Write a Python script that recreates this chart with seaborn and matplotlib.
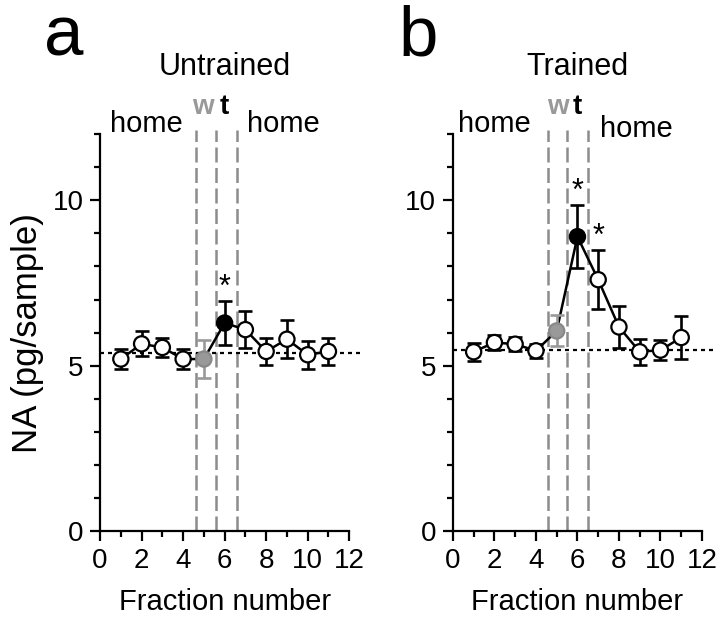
import numpy as np
import pandas as pd
import matplotlib
matplotlib.use("Agg")
import matplotlib.pyplot as plt
import seaborn as sns
from matplotlib.ticker import MultipleLocator

fractions = [1, 2, 3, 4, 5, 6, 7, 8, 9, 10, 11]
untrained_mean = [5.20, 5.66, 5.55, 5.20, 5.20, 6.29, 6.09, 5.43, 5.80, 5.33, 5.43]
untrained_sem = [0.30, 0.38, 0.28, 0.30, 0.57, 0.66, 0.55, 0.40, 0.58, 0.43, 0.40]
untrained_base = 5.38
trained_mean = [5.42, 5.70, 5.65, 5.45, 6.05, 8.90, 7.60, 6.17, 5.42, 5.47, 5.85]
trained_sem = [0.28, 0.22, 0.22, 0.22, 0.47, 0.95, 0.90, 0.63, 0.40, 0.30, 0.65]
trained_base = 5.47
panel_letters = ["a", "b"]
titles = ["Untrained", "Trained"]
sig_untrained = [6]
sig_trained = [6, 7]

sns.set_style("ticks")
plt.rcParams['font.family'] = ['Liberation Sans', 'DejaVu Sans']
for k in ['text.color', 'axes.labelcolor', 'xtick.color', 'ytick.color', 'axes.edgecolor']:
    plt.rcParams[k] = 'black'
plt.rcParams['axes.linewidth'] = 1.6
for k in ['xtick.major.width', 'ytick.major.width', 'xtick.minor.width', 'ytick.minor.width']:
    plt.rcParams[k] = 1.6

GRAY = "#999999"

fig = plt.figure(figsize=(7.2, 6.24), dpi=100)
axes = [fig.add_axes([0.139, 0.149, 0.346, 0.636]),
        fig.add_axes([0.629, 0.149, 0.346, 0.636])]

datasets = [
    (untrained_mean, untrained_sem, untrained_base, sig_untrained, [4.6, 5.6, 6.6]),
    (trained_mean, trained_sem, trained_base, sig_trained, [4.6, 5.5, 6.5]),
]

for i, ax in enumerate(axes):
    mean, sem, base, sig, vlines = datasets[i]
    df = pd.DataFrame({"fraction": fractions, "na": mean, "sem": sem})
    for xv in vlines:
        ax.axvline(xv, ymin=0, ymax=1.01, color="#8c8c8c", lw=1.8, ls=(0, (6, 2.2)), zorder=1, clip_on=False)
    ax.plot([0, 12.7], [base, base], color="black", lw=1.6, ls=(0, (1.8, 1.8)), zorder=2, clip_on=False)
    sns.lineplot(data=df, x="fraction", y="na", color="black", lw=1.8, ax=ax, zorder=3)
    colors_e = [GRAY if f == 5 else "black" for f in fractions]
    for f, m, s, c in zip(fractions, mean, sem, colors_e):
        ax.errorbar([f], [m], yerr=[s], fmt="none", ecolor=c, elinewidth=1.9, capsize=5, capthick=1.9, zorder=4)
    face = [GRAY if f == 5 else ("black" if f == 6 else "white") for f in fractions]
    edge = ["#888888" if f == 5 else "black" for f in fractions]
    ax.scatter(df["fraction"], df["na"], s=120, c=face, edgecolors=edge, linewidths=1.6, zorder=5)
    for f in sig:
        idx = fractions.index(f)
        ax.text(f, mean[idx] + sem[idx] - 0.05, "*", ha="center", va="bottom", fontsize=22)
    ax.set_xlim(0, 12)
    ax.set_ylim(0, 12)
    ax.set_xticks([0, 2, 4, 6, 8, 10, 12])
    ax.set_xticklabels(["0", "2", "4", "6", "8", "10", "12"])
    ax.xaxis.set_minor_locator(MultipleLocator(1))
    ax.set_yticks([0, 5, 10])
    ax.yaxis.set_minor_locator(MultipleLocator(1))
    ax.tick_params(axis="both", which="major", labelsize=20, length=7, direction="out", pad=5)
    ax.tick_params(axis="both", which="minor", length=4, direction="out")
    ax.set_xlabel("Fraction number", fontsize=21, labelpad=10)
    if i == 0:
        ax.set_ylabel("NA (pg/sample)", fontsize=25, labelpad=6)
    else:
        ax.set_ylabel("")
    sns.despine(ax=ax)
    ax.text(6, 13.8, titles[i], fontsize=22, ha="center", va="baseline", clip_on=False)

# header texts
axes[0].text(0.48, 12.08, "home", fontsize=21, ha="left", va="baseline", clip_on=False)
axes[0].text(4.96, 12.62, "w", fontsize=20, ha="center", va="baseline", color=GRAY, fontweight="bold", clip_on=False)
axes[0].text(6.0, 12.62, "t", fontsize=20, ha="center", va="baseline", color="black", fontweight="bold", clip_on=False)
axes[0].text(7.08, 12.08, "home", fontsize=21, ha="left", va="baseline", clip_on=False)

axes[1].text(0.24, 12.08, "home", fontsize=21, ha="left", va="baseline", clip_on=False)
axes[1].text(5.06, 12.62, "w", fontsize=20, ha="center", va="baseline", color=GRAY, fontweight="bold", clip_on=False)
axes[1].text(5.98, 12.62, "t", fontsize=20, ha="center", va="baseline", color="black", fontweight="bold", clip_on=False)
axes[1].text(7.08, 11.9, "home", fontsize=21, ha="left", va="baseline", clip_on=False)

fig.text(64 / 720, 1 - 55 / 624, panel_letters[0], fontsize=51, ha="center", va="baseline")
fig.text(418 / 720, 1 - 55 / 624, panel_letters[1], fontsize=51, ha="center", va="baseline")

fig.savefig("out.png", dpi=100)
